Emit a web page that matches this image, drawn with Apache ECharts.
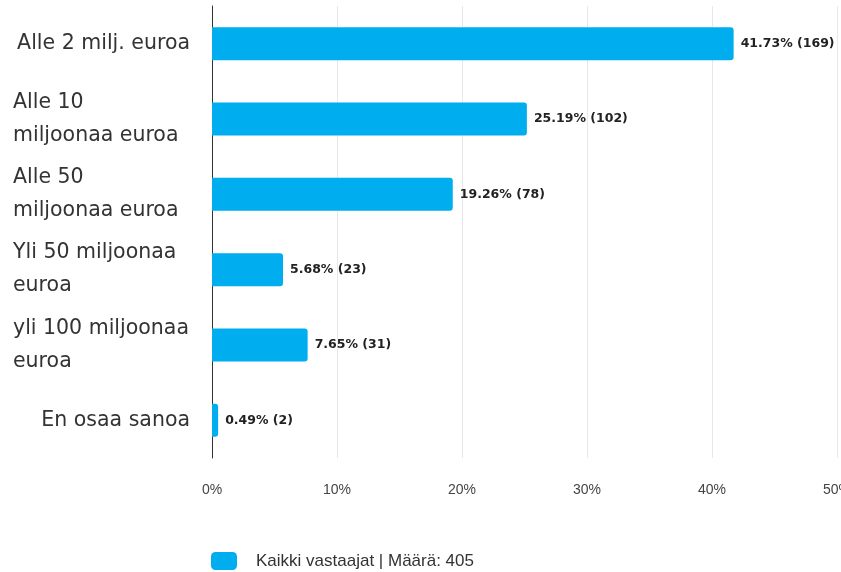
<!DOCTYPE html>
<html><head><meta charset="utf-8">
<script src="https://cdn.jsdelivr.net/npm/echarts@6/dist/echarts.min.js"></script>
<style>html,body{margin:0;padding:0;background:#fff}#c{width:841px;height:572px}</style>
</head><body><div id="c"></div>
<script>
const categories = ["Alle 2 milj. euroa", "Alle 10\nmiljoonaa euroa", "Alle 50\nmiljoonaa euroa", "Yli 50 miljoonaa\neuroa", "yli 100 miljoonaa\neuroa", "En osaa sanoa"];
const percents = [41.73, 25.19, 19.26, 5.68, 7.65, 0.49];
const counts = [169, 102, 78, 23, 31, 2];
const seriesName = "Kaikki vastaajat | Määrä: 405";
const xTicks = [0, 10, 20, 30, 40, 50];

const chart = echarts.init(document.getElementById('c'));
chart.setOption({
  animation: false,
  textStyle: { fontFamily: 'DejaVu Sans' },
  grid: { left: 212, right: 4, top: 6, bottom: 114, outerBoundsMode: 'none', containLabel: false },
  xAxis: {
    type: 'value', min: xTicks[0], max: xTicks[xTicks.length - 1], interval: 10,
    axisLine: { show: false }, axisTick: { show: false },
    splitLine: { show: true, lineStyle: { color: '#e8e8e8', width: 1 } },
    axisLabel: { formatter: '{value}%', color: '#444', fontSize: 14, margin: 25, fontFamily: 'Liberation Sans' }
  },
  yAxis: {
    type: 'category', data: categories, inverse: true,
    axisLine: { show: true, lineStyle: { color: '#333', width: 1 } },
    axisTick: { show: false },
    axisLabel: {
      margin: 22, align: 'right',
      formatter: function (v) {
        if (v.indexOf('\n') >= 0) {
          return v.split('\n').map(function (l) { return '{m|' + l + '}'; }).join('\n');
        }
        return '{s|' + v + '}';
      },
      rich: {
        m: { width: 177, align: 'left', fontSize: 20.5, lineHeight: 33, color: '#333', fontFamily: 'DejaVu Sans' },
        s: { fontSize: 20.5, lineHeight: 33, color: '#333', fontFamily: 'DejaVu Sans' }
      }
    }
  },
  legend: {
    top: 552, left: 211, padding: 0, itemWidth: 26, itemHeight: 18, itemGap: 10,
    icon: 'roundRect',
    textStyle: { fontSize: 17, color: '#333', fontFamily: 'Liberation Sans', padding: [0, 0, 0, 14] },
    data: [seriesName]
  },
  series: [{
    name: seriesName, type: 'bar', data: percents, barWidth: 33,
    itemStyle: { color: '#00ADEF', borderRadius: [0, 3, 3, 0] },
    label: {
      show: true, position: 'right', distance: 7,
      formatter: function (p) { return p.value.toFixed(2) + '% (' + counts[p.dataIndex] + ')'; },
      fontSize: 12.5, fontWeight: 'bold', color: '#222', fontFamily: 'DejaVu Sans'
    }
  }]
});
</script></body></html>
